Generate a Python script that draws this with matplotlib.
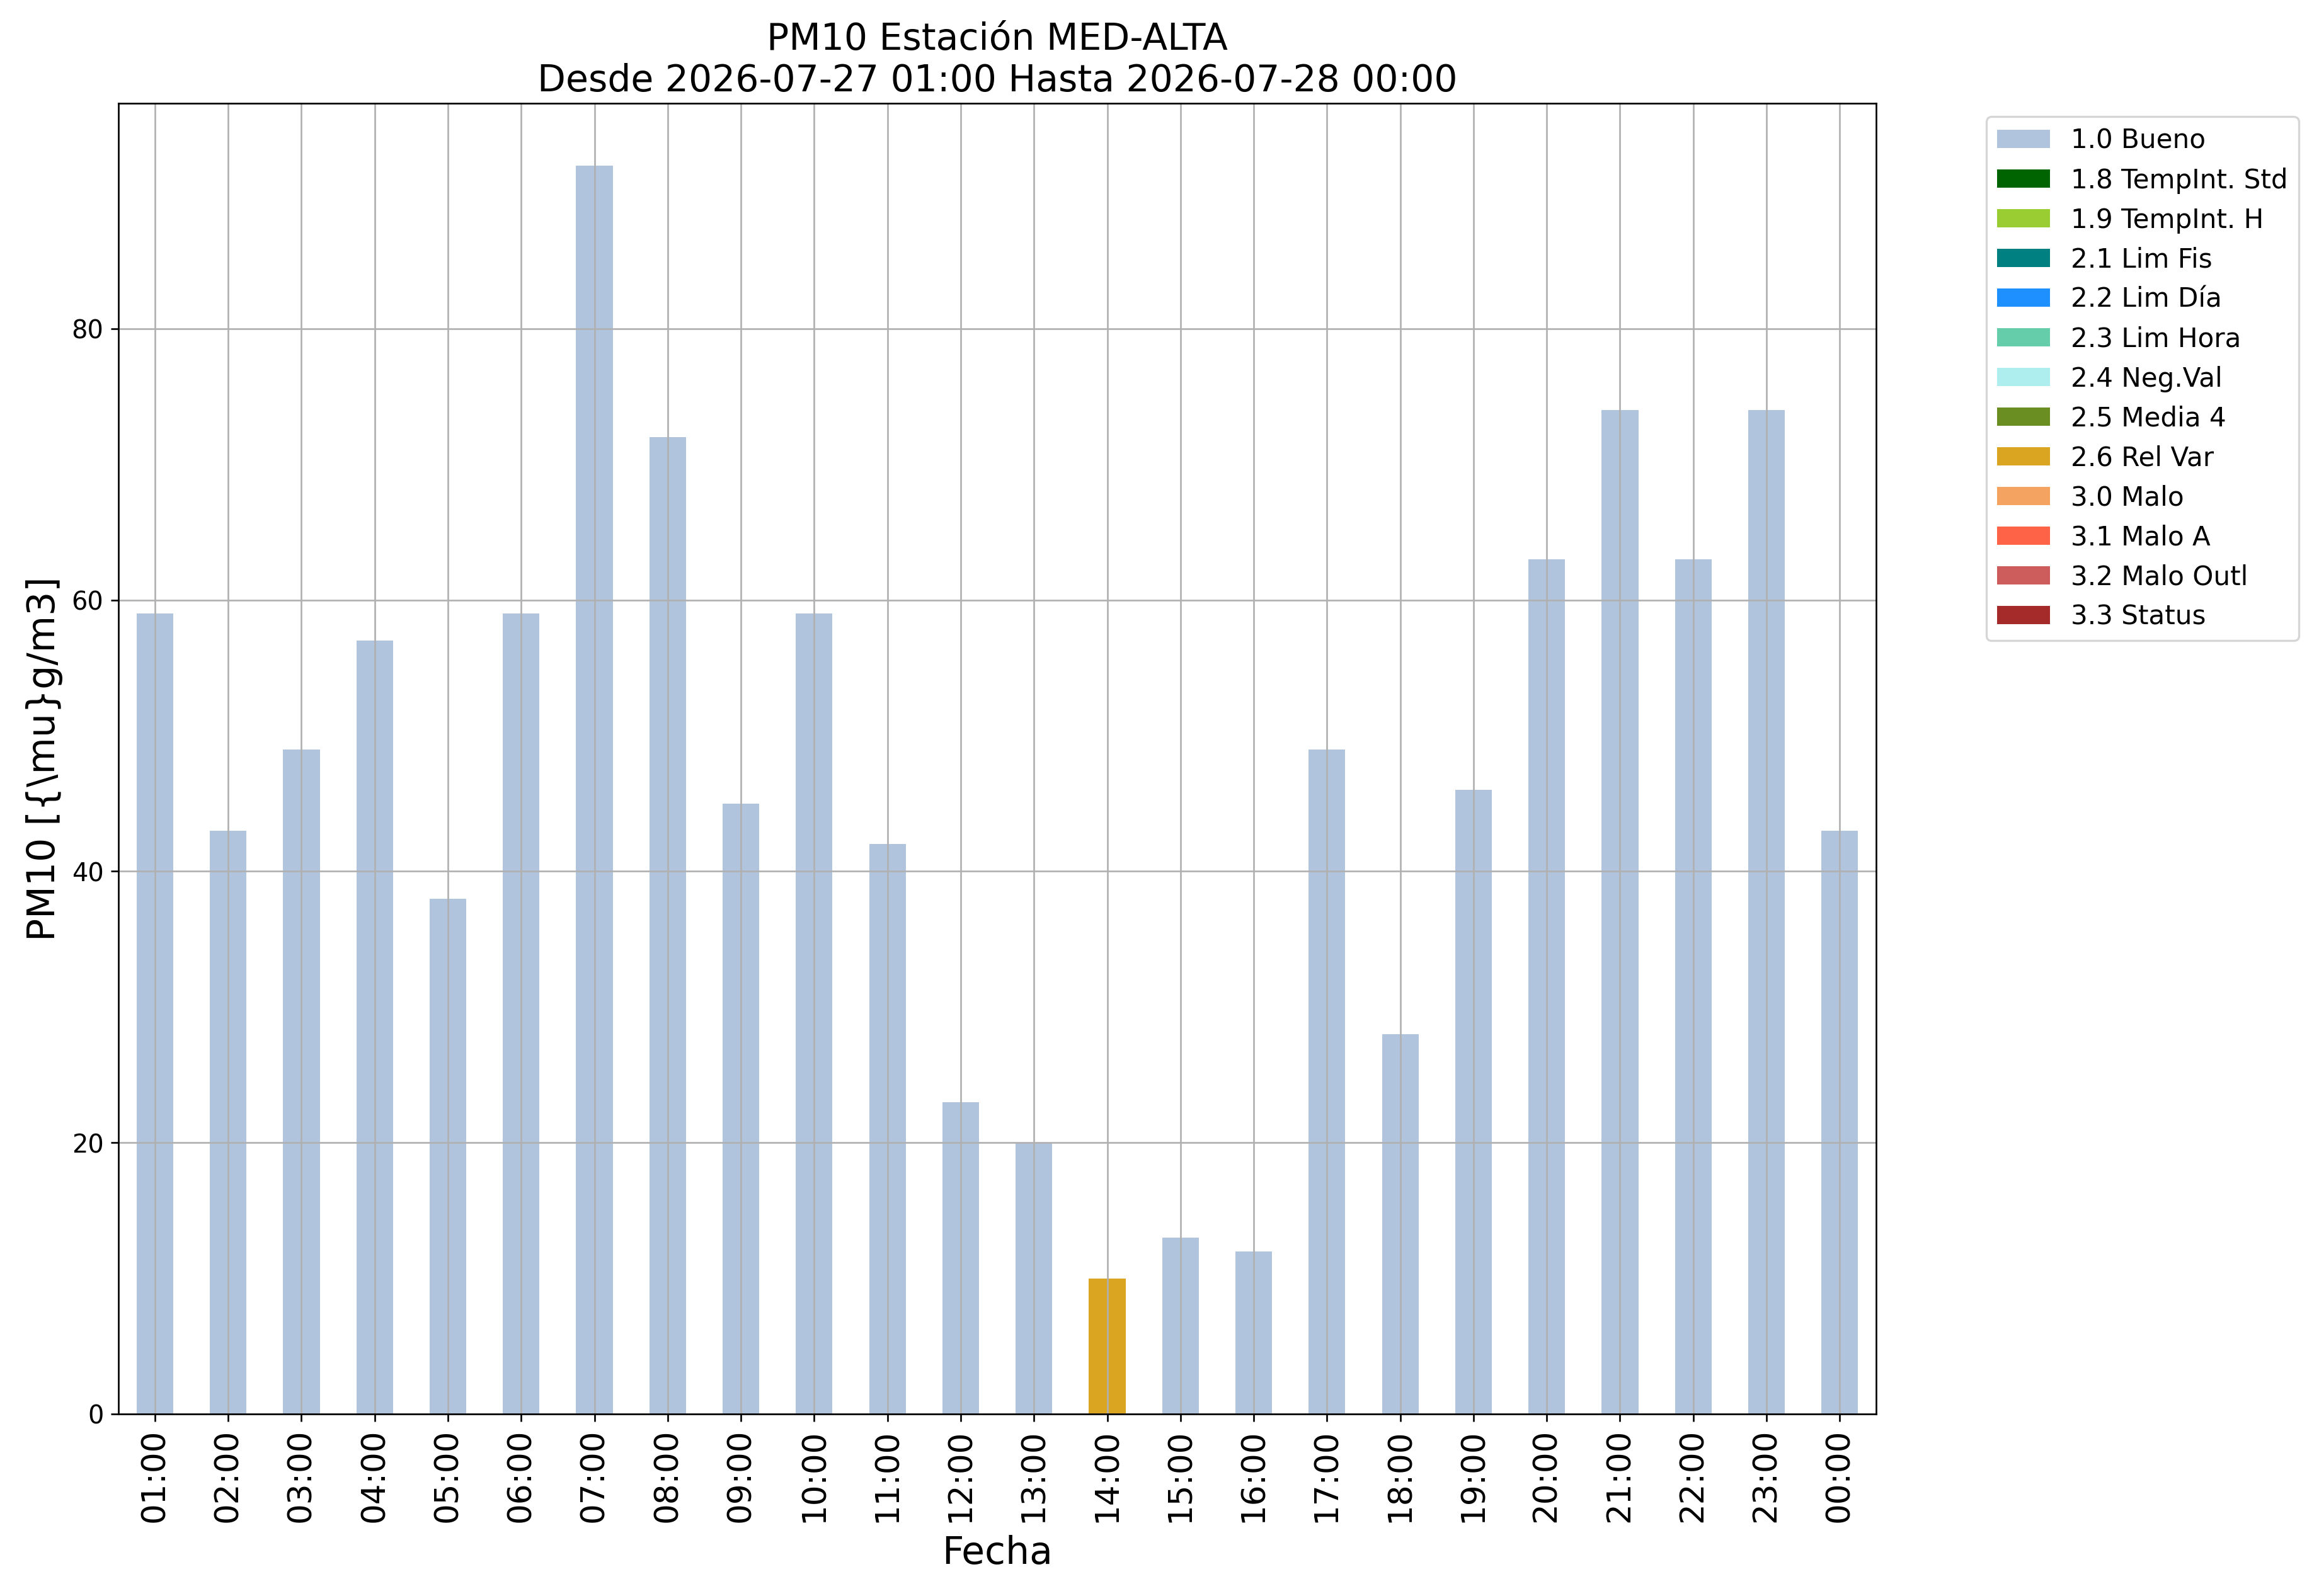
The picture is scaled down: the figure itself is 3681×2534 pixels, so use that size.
import numpy as np
import matplotlib
matplotlib.use("Agg")
import matplotlib.pyplot as plt

# hourly PM10 values and the quality flag of each hour
hours = ["01:00", "02:00", "03:00", "04:00", "05:00", "06:00", "07:00", "08:00",
         "09:00", "10:00", "11:00", "12:00", "13:00", "14:00", "15:00", "16:00",
         "17:00", "18:00", "19:00", "20:00", "21:00", "22:00", "23:00", "00:00"]
pm10 = [59, 43, 49, 57, 38, 59, 92, 72, 45, 59, 42, 23,
        20, 10, 13, 12, 49, 28, 46, 63, 74, 63, 74, 43]
flags = ["1.0 Bueno"] * 13 + ["2.6 Rel Var"] + ["1.0 Bueno"] * 10

categories = ["1.0 Bueno", "1.8 TempInt. Std", "1.9 TempInt. H", "2.1 Lim Fis",
              "2.2 Lim Día", "2.3 Lim Hora", "2.4 Neg.Val", "2.5 Media 4",
              "2.6 Rel Var", "3.0 Malo", "3.1 Malo A", "3.2 Malo Outl", "3.3 Status"]
colors = ["lightsteelblue", "darkgreen", "yellowgreen", "teal", "dodgerblue",
          "mediumaquamarine", "paleturquoise", "olivedrab", "goldenrod",
          "sandybrown", "tomato", "indianred", "brown"]

fig = plt.figure(figsize=(15.34, 10.56))
ax = fig.add_axes([0.051, 0.114, 0.758, 0.821])

x = np.arange(len(hours))
bottom = np.zeros(len(hours))
for cat, col in zip(categories, colors):
    vals = np.array([v if f == cat else 0 for v, f in zip(pm10, flags)], dtype=float)
    ax.bar(x, vals, width=0.5, bottom=bottom, color=col, label=cat)
    bottom += vals

# stacked zero bars pin the top, so give the usual 5% headroom by hand
ax.set_ylim(0, bottom.max() * 1.05)
ax.set_xlim(-0.5, len(hours) - 0.5)
ax.set_xticks(x)
ax.set_xticklabels(hours, rotation=90, fontsize=15.5)
ax.tick_params(axis="y", labelsize=12)
ax.grid(True)

ax.set_title("PM10 Estación MED-ALTA\nDesde 2026-07-27 01:00 Hasta 2026-07-28 00:00", fontsize=17.5)
ax.set_xlabel("Fecha", fontsize=18, labelpad=6)
ax.set_ylabel(r"PM10 [{\mu}g/m3]", fontsize=18)
ax.legend(loc="upper left", bbox_to_anchor=(1.055, 1), fontsize=12.6)

fig.savefig("out.png", dpi=240)
